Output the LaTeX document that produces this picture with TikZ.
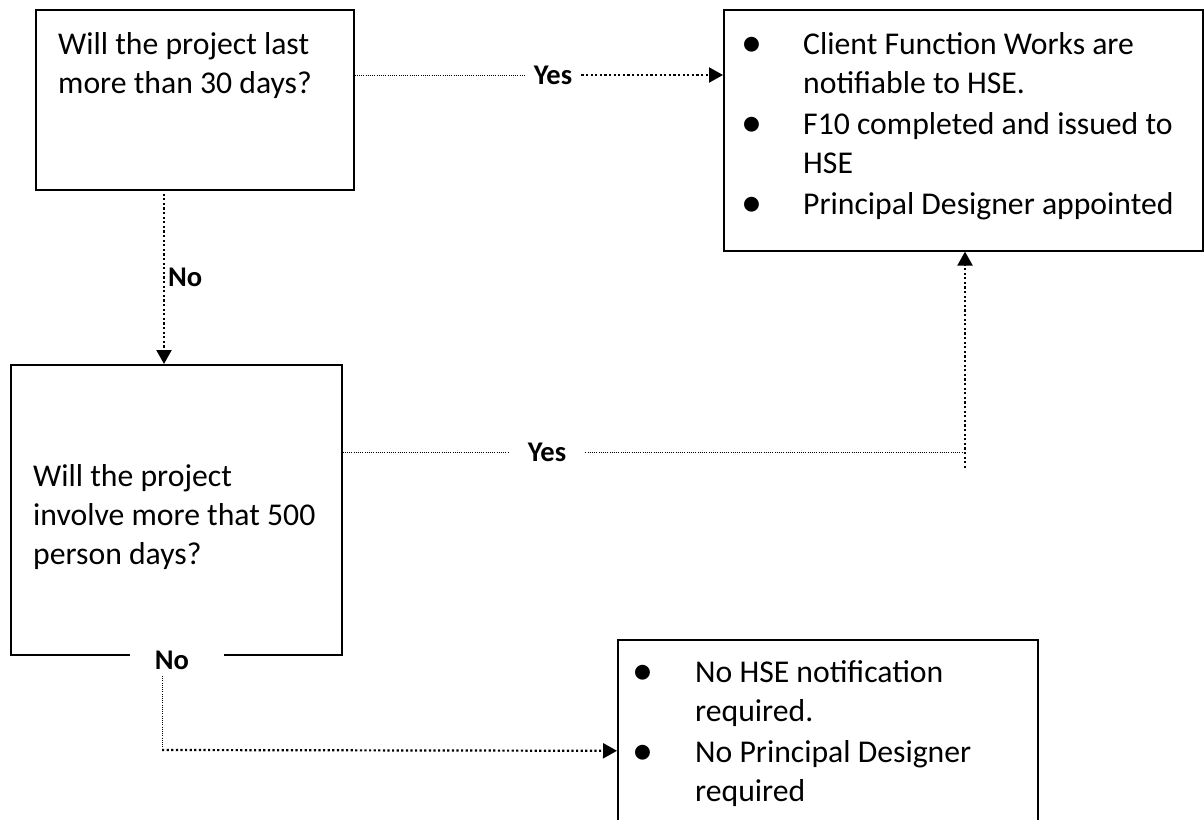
\documentclass[tikz,border=0pt]{standalone}
\usepackage{fontspec}
\setmainfont{Carlito}
\usetikzlibrary{arrows.meta}
\newcommand{\bul}{\makebox[0pt]{\fontsize{42}{39}\selectfont\raisebox{-2.5pt}{•}}}
\begin{document}
\begin{tikzpicture}[x=1pt,y=-1pt,
  box/.style={draw, line width=1.6pt, rectangle, inner sep=0pt, anchor=north west},
  txt/.style={anchor=base west, inner sep=0pt, font=\fontsize{31.7}{39}\selectfont},
  lbl/.style={font=\fontsize{28.5}{34}\selectfont\bfseries, inner sep=0pt},
  finedot/.style={line width=1pt, dash pattern=on 1pt off 1.2pt},
  heavydot/.style={line width=2.2pt, dash pattern=on 2.2pt off 2.4pt},
  tip/.style={-{Triangle[length=14pt,width=15pt]}}]
\useasboundingbox (0,0) rectangle (1204,819);
\begin{scope}
\clip (0,0) rectangle (1204,819);
% boxes
\node[box, minimum width=318pt, minimum height=180pt] (b1) at (35,9) {};
\node[box, minimum width=479pt, minimum height=241pt] (b2) at (723,9) {};
\node[box, minimum width=331pt, minimum height=290pt] (b3) at (10,364) {};
\node[box, minimum width=420pt, minimum height=222pt] (b4) at (617,639) {};
% texts
\node[txt] (t1) at (58,54) {\begin{tabular}[t]{@{}l@{}}Will the project last\\more than 30 days?\end{tabular}};
\node[txt] (t2) at (752,54) {\begin{tabular}[t]{@{}p{51pt}@{}l@{}}
\bul & Client Function Works are\\
     & notifiable to HSE.\\[2pt]
\bul & F10 completed and issued to\\
     & HSE\\[2pt]
\bul & Principal Designer appointed
\end{tabular}};
\node[txt] (t3) at (33,486) {\begin{tabular}[t]{@{}l@{}}Will the project\\involve more that 500\\person days?\end{tabular}};
\node[txt] (t4) at (643,682) {\begin{tabular}[t]{@{}p{52pt}@{}l@{}}
\bul & No HSE notification\\
     & required.\\[2pt]
\bul & No Principal Designer\\
     & required
\end{tabular}};
% labels
\node[lbl, inner xsep=9pt] (y1) at (553,75) {Yes};
\node[lbl, anchor=west] (n1) at (168,277) {No};
\node[lbl, inner xsep=19pt] (y2) at (547,452) {Yes};
\node[lbl, fill=white, inner xsep=25pt, inner ysep=6pt] (n2) at (177,660) {No\kern10pt};
% helper coordinates
\coordinate (v1) at (164,189);
\coordinate (c2) at (965,452);
\coordinate (c2b) at (965,468);
\coordinate (n2s) at (162,676);
\coordinate (c3) at (162,750);
% connectors
\draw[finedot] (b1.east |- y1) -- (y1.west);
\draw[heavydot, tip] (y1.east) -- (b2.west |- y1);
\draw[heavydot, tip] (v1) -- (v1 |- b3.north);
\draw[finedot] (b3.east |- y2) -- (y2.west);
\draw[finedot] (y2.east) -- (c2);
\draw[heavydot, tip] (c2b) -- (c2b |- b2.south);
\draw[finedot] (n2s) -- (c3);
\draw[heavydot, tip] (c3) -- (b4.west);
\end{scope}
\end{tikzpicture}
\end{document}
